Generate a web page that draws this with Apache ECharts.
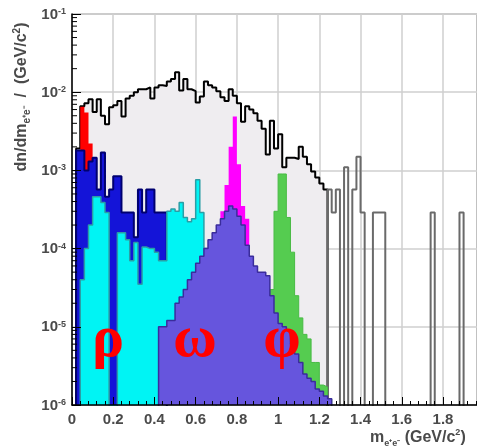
<!DOCTYPE html>
<html><head><meta charset="utf-8">
<script src="https://cdn.jsdelivr.net/npm/echarts@6/dist/echarts.min.js"></script>
<style>html,body{margin:0;padding:0;background:#fff}#c{width:477px;height:447px}</style>
</head><body><div id="c"></div>
<script>
// ---- data (bin width 0.02 GeV/c^2, values = dn/dm) ----
const BIN = 0.02;
const xTicks = [0, 0.2, 0.4, 0.6, 0.8, 1, 1.2, 1.4, 1.6, 1.8];
const yDecades = [1e-6, 1e-5, 1e-4, 1e-3, 1e-2, 1e-1];

const totalStart = 0.02;
const totalVals = [1.9e-3, 6.6e-3, 7.2e-3, 8.1e-3, 5.6e-3, 8.1e-3, 5.0e-3, 3.9e-3, 6.4e-3, 6.8e-3,
  7.7e-3, 4.9e-3, 8.3e-3, 9.0e-3, 1.0e-2, 1.09e-2, 1.09e-2, 1.15e-2, 8.3e-3, 1.15e-2,
  1.23e-2, 1.2e-2, 1.37e-2, 1.47e-2, 1.8e-2, 1.05e-2, 1.47e-2, 1.09e-2, 1.03e-2, 7.4e-3,
  8.8e-3, 1.37e-2, 1.23e-2, 1.15e-2, 1.03e-2, 8.6e-3, 7.7e-3, 1.09e-2, 9.0e-3, 7.2e-3,
  4.2e-3, 6.6e-3, 6.0e-3, 5.4e-3, 4.3e-3, 3.4e-3, 1.6e-3, 4.3e-3, 1.9e-3, 2.9e-3,
  1.1e-3, 1.45e-3, 1.45e-3, 1.4e-3, 2.0e-3, 1.5e-3, 1.2e-3, 9.7e-4, 8.1e-4, 6.8e-4,
  5.7e-4];

const tailStart = 1.24;
const tailVals = [5.7e-4, 2.9e-4, 5.7e-4, 0, 1.1e-3, 0, 5.7e-4, 1.5e-3, 2.9e-4, 0,
  0, 2.9e-4, 2.9e-4, 2.9e-4, 0, 0, 0, 0, 0, 0,
  0, 0, 0, 0, 0, 2.9e-4, 0, 0, 0, 0,
  0, 0, 2.9e-4, 0];

const redStart = 0.04;
const redVals = [6.5e-3, 5.5e-3, 2.2e-3, 4e-4];

const navyStart = 0.02;
const navyVals = [1.8e-3, 1.8e-3, 1.0e-3, 1.3e-3, 1.45e-3, 5.7e-4, 1.7e-3, 4.6e-4, 5.7e-4, 8.4e-4,
  8.4e-4, 2.9e-4, 2.9e-4, 2.9e-4, 1.4e-4, 5.7e-4, 2.9e-4, 5.7e-4, 5.7e-4, 2.9e-4,
  2.9e-4, 2.9e-4];

const cyanStart = 0.04;
const cyanVals = [4e-5, 1e-4, 2e-4, 4.6e-4, 4.6e-4, 3.9e-4, 2.9e-4, 0, 0, 1.6e-4,
  1.6e-4, 1.3e-4, 7e-5, 1.2e-4, 3.5e-5, 1.05e-4, 1.0e-4, 1.0e-4, 9e-5, 7e-5,
  7e-5, 3.0e-4, 3.2e-4, 3.0e-4, 3.9e-4, 2.5e-4, 2.2e-4, 2.4e-4, 7.6e-4, 2.9e-4,
  1.0e-4, 5e-5, 3e-5];

const magentaStart = 0.72;
const magentaVals = [3e-4, 6.5e-4, 2.0e-3, 4.9e-3, 1.2e-3, 3.5e-4, 2.4e-4];

const greenStart = 0.96;
const greenVals = [3e-5, 3e-4, 9e-4, 9e-4, 2.5e-4, 9e-5, 2.5e-5, 1.3e-5, 8e-6, 7e-6,
  3.5e-6, 3.5e-6, 1.8e-6, 1.7e-6, 1.2e-6];

const purpleStart = 0.42;
const purpleVals = [1.0e-5, 1.0e-5, 1.2e-5, 1.2e-5, 2.0e-5, 2.4e-5, 3.0e-5, 4.0e-5, 5.0e-5, 6.5e-5,
  8.0e-5, 1.0e-4, 1.3e-4, 1.6e-4, 2.0e-4, 2.4e-4, 3.0e-4, 3.5e-4, 3.2e-4, 2.6e-4,
  2.0e-4, 1.1e-4, 8.0e-5, 6.0e-5, 5.0e-5, 5.0e-5, 4.5e-5, 2.5e-5, 1.5e-5, 1.1e-5,
  1.0e-5, 9e-6, 6e-6, 4.5e-6, 3.5e-6, 2.5e-6, 2.2e-6, 2.0e-6, 1.6e-6, 1.5e-6,
  1.3e-6, 1.2e-6];

const yMinorFactors = [2, 3, 4, 5, 6, 7, 8, 9];

// ---- helpers ----
const ZERO = 1e-9;
function hist(start, vals) {
  const pts = [[start, ZERO]];
  vals.forEach((v, i) => pts.push([+(start + i * BIN).toFixed(4), v > 0 ? v : ZERO]));
  const end = +(start + vals.length * BIN).toFixed(4);
  const last = vals[vals.length - 1];
  pts.push([end, last > 0 ? last : ZERO]);
  pts.push([end, ZERO]);
  return pts;
}
function S(data, line, fill, lw, z) {
  const s = {
    type: 'line', data, step: 'end', showSymbol: false, symbol: 'none', silent: true,
    animation: false, clip: true, z, lineStyle: { color: line, width: lw }
  };
  if (fill) s.areaStyle = { color: fill, opacity: 1, origin: 'start' };
  return s;
}
const yMinor = [];
yDecades.slice(0, -1).forEach(d => yMinorFactors.forEach(f => yMinor.push([0, f * d])));

const FONT = 'Liberation Sans, Arial, sans-serif';
const LBL = { fontFamily: FONT, fontWeight: 'bold', color: '#4a4a4a' };
function rt(size, va, lh) { return { fontSize: size, fontWeight: 'bold', fill: '#4a4a4a', fontFamily: FONT, lineHeight: lh, verticalAlign: va }; }

const X_MAX = 1.965;
const xBase = { type: 'value', min: 0, max: X_MAX, interval: 0.2, position: 'bottom' };
const yBase = { type: 'log', logBase: 10, min: 1e-6, max: 1e-1, position: 'left' };

const chart = echarts.init(document.getElementById('c'), null, { renderer: 'canvas' });
chart.setOption({
  animation: false,
  backgroundColor: '#fff',
  grid: { left: 72, right: 0, top: 14, bottom: 42, show: true, borderColor: '#333', borderWidth: 1, backgroundColor: 'transparent' },
  xAxis: [
    Object.assign({}, xBase, {
      z: 0, axisLine: { show: false }, axisTick: { show: false }, axisLabel: { show: false },
      splitLine: { show: true, lineStyle: { color: '#cfcfcf', width: 1.5 } }
    }),
    Object.assign({}, xBase, {
      z: 50, splitLine: { show: false },
      axisLine: { show: true, onZero: false, lineStyle: { color: '#000', width: 1.5 } },
      axisTick: { show: true, inside: true, length: 8, lineStyle: { color: '#000' } },
      minorTick: { show: true, splitNumber: 5, length: 4, lineStyle: { color: '#000' } },
      axisLabel: Object.assign({}, LBL, {
        fontSize: 15, margin: 7, showMaxLabel: false,
        formatter: v => {
          const t = xTicks.find(k => Math.abs(k - v) < 1e-6);
          return t === undefined ? '' : String(t);
        }
      })
    })
  ],
  yAxis: [
    Object.assign({}, yBase, {
      z: 0, axisLine: { show: false }, axisTick: { show: false }, axisLabel: { show: false },
      splitLine: { show: true, lineStyle: { color: '#cfcfcf', width: 1.5 } }
    }),
    Object.assign({}, yBase, {
      z: 50, splitLine: { show: false },
      axisLine: { show: true, onZero: false, lineStyle: { color: '#000', width: 1.5 } },
      axisTick: { show: true, inside: true, length: 9, lineStyle: { color: '#000' } },
      axisLabel: {
        margin: 6, padding: [10, 0, 0, 0],
        formatter: v => '{b|10}{s|' + Math.round(Math.log10(v)) + '}',
        rich: {
          b: Object.assign({}, LBL, { fontSize: 15, lineHeight: 24, verticalAlign: 'top' }),
          s: Object.assign({}, LBL, { fontSize: 9, lineHeight: 10, verticalAlign: 'top' })
        }
      }
    })
  ],
  series: [
    S(hist(totalStart, totalVals), '#000', '#efedf0', 2, 2),
    S(hist(tailStart, tailVals), '#6a6a6a', null, 2, 3),
    S(hist(redStart, redVals), '#ff0000', '#ff0000', 0, 4),
    S(hist(navyStart, navyVals), '#000070', '#1414d8', 2, 5),
    S(hist(magentaStart, magentaVals), '#ff00ff', '#ff00ff', 0, 6),
    S(hist(greenStart, greenVals), '#48bb44', '#55cc50', 1, 7),
    S(hist(cyanStart, cyanVals), '#2a9ea6', '#00f4f4', 1.5, 8),
    S(hist(purpleStart, purpleVals), '#3a2c9c', '#6655dd', 1.5, 9),
    {
      type: 'custom', coordinateSystem: 'cartesian2d', silent: true, animation: false, z: 40,
      data: yMinor,
      renderItem: (p, api) => {
        const pt = api.coord([api.value(0), api.value(1)]);
        return { type: 'line', shape: { x1: pt[0], y1: pt[1], x2: pt[0] + 5, y2: pt[1] }, style: { stroke: '#000', lineWidth: 1 } };
      }
    }
  ],
  graphic: [
    { type: 'text', x: 22, y: 97, rotation: Math.PI / 2, silent: true, z: 100,
      style: { text: '{t|dn/dm}{s|e⁺e⁻}{t|  /  (GeV/c}{p|2}{t|)}', align: 'center', verticalAlign: 'middle',
        rich: { t: rt(16, 'middle', 20), s: rt(10, 'bottom', 12), p: rt(10, 'top', 12) } } },
    { type: 'text', x: 370, y: 438, silent: true, z: 100,
      style: { text: '{t|m}{s|e⁺e⁻}{t| (GeV/c}{p|2}{t|)}', align: 'left', verticalAlign: 'middle',
        rich: { t: rt(16, 'middle', 20), s: rt(9, 'bottom', 10), p: rt(9, 'top', 10) } } },
    { type: 'text', x: 108, y: 340, silent: true, z: 100, style: { text: 'ρ', font: 'bold 60px "Liberation Serif", serif', fill: '#ff0000', align: 'center', verticalAlign: 'middle' } },
    { type: 'text', x: 195, y: 340, silent: true, z: 100, style: { text: 'ω', font: 'bold 60px "Liberation Serif", serif', fill: '#ff0000', align: 'center', verticalAlign: 'middle' } },
    { type: 'text', x: 282, y: 340, silent: true, z: 100, style: { text: 'φ', font: 'bold 60px "Liberation Serif", serif', fill: '#ff0000', align: 'center', verticalAlign: 'middle' } }
  ]
});
</script>
</body></html>
